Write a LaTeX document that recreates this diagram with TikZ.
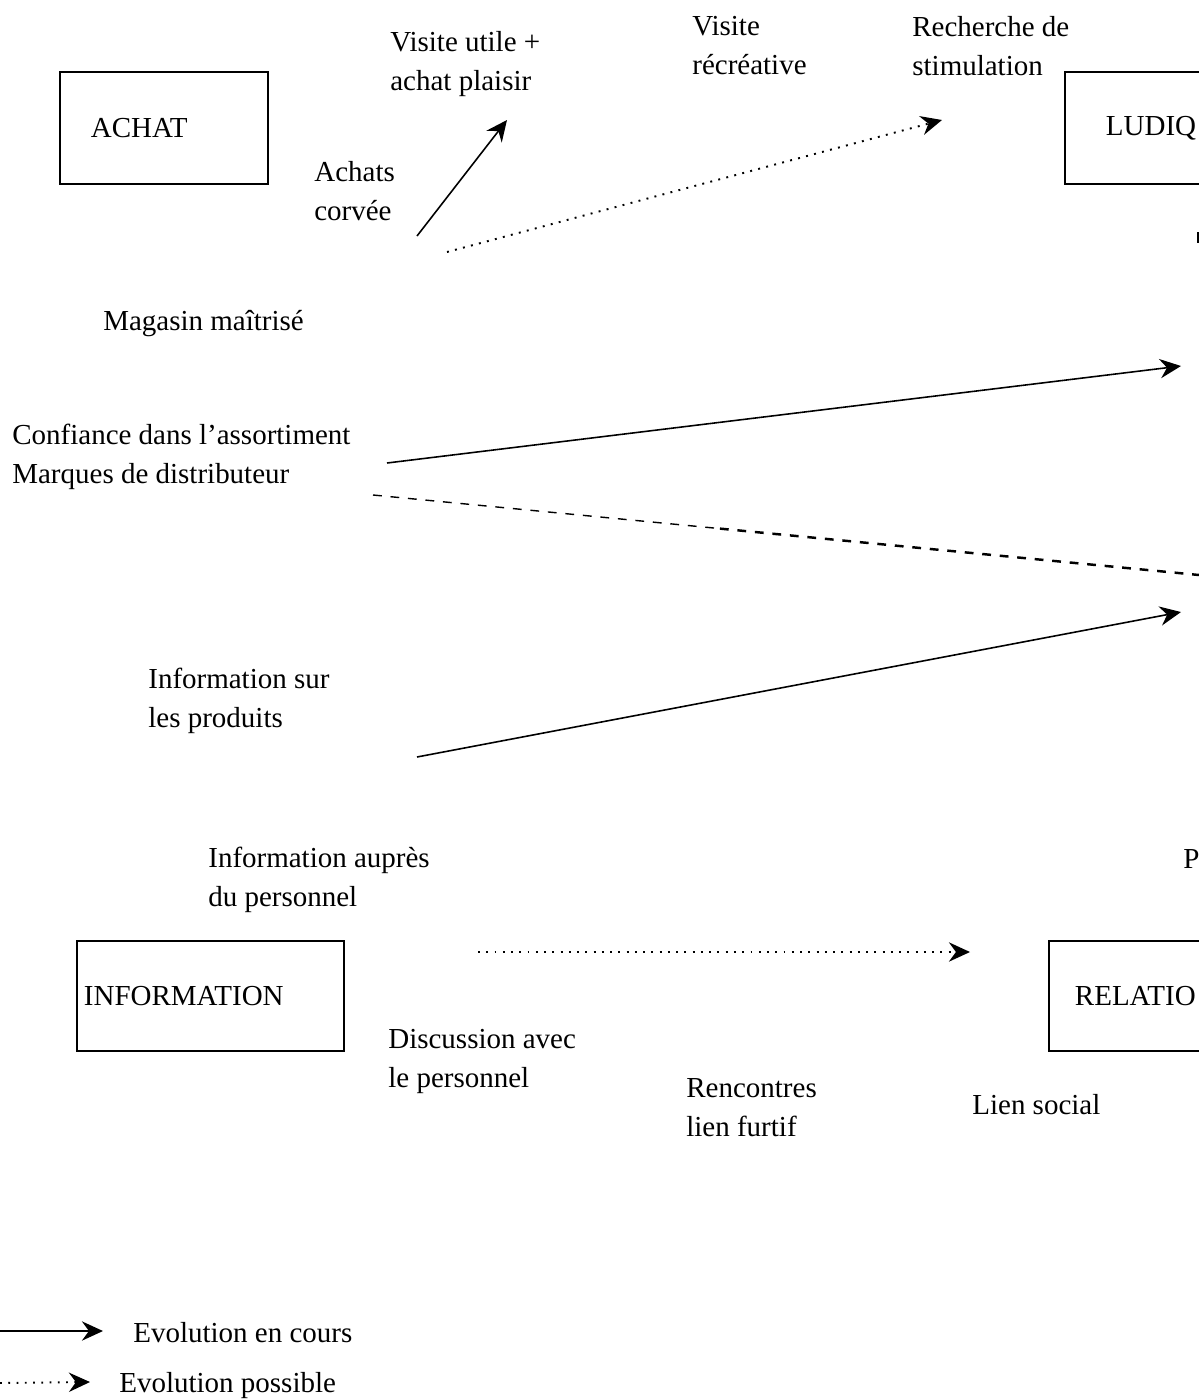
\documentclass[tikz,border=0pt]{standalone}
\usepackage{fontspec}
\setmainfont{Liberation Serif}
\usepackage{tikz}
\usetikzlibrary{arrows.meta,positioning,calc}

\begin{document}
\begin{tikzpicture}[
    x=0.02cm, y=-0.02cm,
    txt/.style={anchor=north west, inner sep=0pt, align=left, font=\fontsize{16.5}{22.2}\selectfont},
    box/.style={draw, line width=1.1pt, rectangle, anchor=north west, align=left, inner ysep=0pt, font=\fontsize{16.5}{22.2}\selectfont},
    cours/.style={line width=0.9pt, -{Stealth[length=12pt, width=11pt, inset=4pt]}},
    possible/.style={line width=1.1pt, dash pattern=on 1.1pt off 3.6pt, -{Stealth[length=12pt, width=11pt, inset=4pt]}},
    tirets/.style={line width=0.8pt, dash pattern=on 5pt off 5pt}]
    \useasboundingbox (0,0) rectangle (1199,1400);
    \clip (0,0) rectangle (1199,1400);
    \node[box, minimum width=4.16cm, minimum height=2.24cm, inner xsep=0.62cm, text width=2.92cm] (achat) at (59,71) {ACHAT};
    \node[box, minimum width=5cm, minimum height=2.24cm, inner xsep=0.82cm, text width=3.36cm] (ludique) at (1064,71) {LUDIQ};
    \node[box, minimum width=5.34cm, minimum height=2.2cm, inner xsep=0.14cm, text width=5.06cm] (information) at (76,940) {INFORMATION};
    \node[box, minimum width=5cm, minimum height=2.2cm, inner xsep=0.52cm, text width=3.96cm] (relation) at (1048,940) {RELATIO};
    \node[txt] (visiteutile) at (390,31) {Visite utile +\\achat plaisir};
    \node[txt] (visiterecreative) at (692,16) {Visite\\récréative};
    \node[txt] (recherche) at (912,16) {Recherche de\\stimulation};
    \node[txt] (achats) at (314,161) {Achats\\corvée};
    \node[txt] (magasin) at (103,310) {Magasin maîtrisé};
    \node[txt] (confiance) at (12,424) {Confiance dans l’assortiment\\Marques de distributeur};
    \node[txt] (infoproduits) at (148,668) {Information sur\\les produits};
    \node[txt] (infopersonnel) at (208,847) {Information auprès\\du personnel};
    \node[txt] (pfin) at (1183,849) {P};
    \node[txt] (discussion) at (388,1029) {Discussion avec\\le personnel};
    \node[txt] (rencontres) at (686,1078) {Rencontres\\lien furtif};
    \node[txt] (liensocial) at (972,1094) {Lien social};
    \node[txt] (legcours) at (133,1322) {Evolution en cours};
    \node[txt] (legpossible) at (119,1372) {Evolution possible};
    \coordinate (corvee) at (417,236);
    \coordinate (utile) at (507,120);
    \coordinate (corvee2) at (447,252);
    \coordinate (stimul) at (942,120);
    \coordinate (conf) at (387,463);
    \coordinate (conf2) at (1181,366);
    \coordinate (marq) at (373,495);
    \coordinate (marq2) at (1199,575);
    \coordinate (marqmil) at ($(marq)!0.42!(marq2)$);
    \coordinate (prod) at (417,757);
    \coordinate (prod2) at (1181,612);
    \coordinate (perso) at (478,952);
    \coordinate (social) at (970,952);
    \coordinate (ludbas) at (1198,232);
    \coordinate (ludbas2) at (1198,243);
    \coordinate (legc1) at (0,1331);
    \coordinate (legc2) at (103,1331);
    \coordinate (legp1) at (0,1383);
    \coordinate (legp2) at (90,1382);
    \draw[cours] (corvee) -- (utile);
    \draw[possible] (corvee2) -- (stimul);
    \draw[cours] (conf) -- (conf2);
    \draw[tirets] (marq) -- (marqmil);
    \draw[tirets, line width=1.4pt] (marqmil) -- (marq2);
    \draw[cours] (prod) -- (prod2);
    \draw[possible] (perso) -- (social);
    \draw[line width=1.1pt] (ludbas) -- (ludbas2);
    \draw[cours] (legc1) -- (legc2);
    \draw[possible] (legp1) -- (legp2);
\end{tikzpicture}
\end{document}
